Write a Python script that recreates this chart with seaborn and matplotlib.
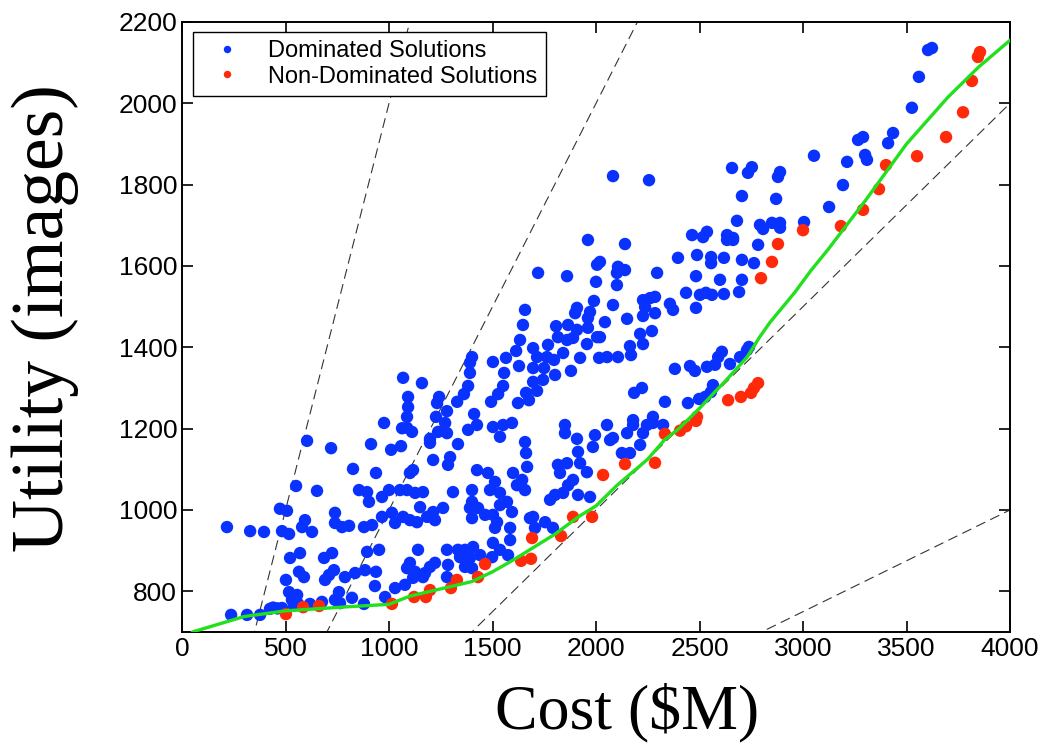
import matplotlib
matplotlib.use("Agg")
import matplotlib.pyplot as plt
import seaborn as sns
import numpy as np
import pandas as pd

# ---------------- data ----------------
dom_cost = [
    217, 329, 396, 473, 507, 483, 517, 604, 720, 551, 652, 826, 913, 976, 1010, 937, 739, 594, 580, 628,
    739, 773, 807, 855, 894, 903, 966, 1000, 879, 918, 966, 1014, 1029, 522, 570, 565, 589, 502, 517, 556,
    531, 686, 725, 710, 734, 691, 787, 836, 884, 894, 952, 937, 932, 758, 739, 821, 879, 981, 1029, 237,
    314, 377, 425, 483, 618, 676, 763, 1063, 1058, 440, 460, 540, 560,
    1720, 1860, 1961, 2005, 2000, 1990, 1908, 1899, 1971, 1961, 1961, 2005, 1865, 1807, 1908, 1816, 1860, 1889, 1956, 1923,
    2015, 1841, 1879, 1657, 1647, 1633, 1696, 1768, 1715, 1763, 1797, 1696, 1749, 1802, 1744, 1696, 1715, 1662, 1676, 1614,
    1628, 1565, 1556, 1502, 1401, 1391, 1391, 1382, 1551, 1527, 1623, 1493, 1362, 1329, 1280, 1411, 1425, 1382, 1502, 1551,
    1594, 1536, 1242, 1232, 1227, 1271, 1237, 1280, 1092, 1092, 1087, 1087, 1111, 1068, 1159, 1850, 1850, 1908, 1995, 1198,
    1198, 1213, 1116, 1101, 1295, 1285, 1333, 1425, 1478, 1512, 1488, 1536, 1401, 1309, 1401, 1391, 1430, 1401, 1536, 1570,
    1594, 1464, 1502, 1522, 1512, 1585, 1585, 1502, 1498, 1536, 1575, 1599, 1643, 1667, 1662, 1657, 1618, 1657, 1816, 1826,
    1860, 1913, 1923, 1956, 1985, 1889, 1865, 1841, 1913, 1971, 1778, 1802, 1696, 1681, 1754, 1705, 1792, 1053, 1087, 1126,
    1164, 1150, 1068, 1101, 1135, 1184, 1213, 1222, 1261, 1140, 1280, 1333, 1367, 1406, 1343, 1391, 1367, 1285, 1101, 1087,
    1126, 1174, 1198, 1222, 1116, 1164, 1077, 1280, 1401, 1440,
    2082, 2256, 2657, 2734, 2753, 2889, 2879, 2705, 2870, 2681, 2792, 2807, 2850, 2889, 2889, 2464, 2536, 2517, 2633, 2662,
    2140, 2019, 2106, 2101, 2140, 2101, 2295, 2396, 2488, 2556, 2556, 2618, 2705, 2763, 2633, 2662, 2783, 2483, 2599, 2705,
    2435, 2502, 2531, 2560, 2618, 2691, 2483, 2357, 2372, 2227, 2261, 2285, 2237, 2285, 2227, 2082, 2043, 2150, 2270, 2213,
    2227, 2164, 2169, 2106, 2053, 2019, 2381, 2454, 2478, 2536, 2575, 2590, 2608, 2647, 2696, 2729, 2739, 2565, 2555, 2527,
    2498, 2444, 2333, 2222, 2184, 2275, 2275, 2246, 2179, 2179, 2227, 2324, 2053, 2150, 2082, 2068, 2164, 2213, 2125,
    3604, 3623, 3560, 3526, 3435, 3411, 3290, 3266, 3300, 3309, 3213, 3053, 3193, 3126, 3005,
]
dom_util = [
    958, 948, 946, 1003, 998, 948, 941, 1170, 1152, 1059, 1047, 1101, 1162, 1214, 1148, 1091, 993, 975, 958, 946,
    968, 958, 961, 1049, 1044, 1020, 1032, 1049, 958, 963, 983, 993, 968, 882, 894, 848, 835, 828, 798, 791,
    779, 882, 894, 840, 852, 828, 835, 845, 852, 897, 902, 848, 813, 798, 779, 784, 769, 786, 808, 742,
    742, 742, 757, 759, 769, 774, 771, 1201, 1157, 760, 758, 765, 770,
    1583, 1575, 1664, 1603, 1561, 1514, 1497, 1484, 1487, 1472, 1448, 1425, 1455, 1452, 1443, 1425, 1418, 1423, 1408, 1374,
    1374, 1386, 1342, 1492, 1455, 1418, 1398, 1406, 1376, 1376, 1369, 1349, 1349, 1332, 1320, 1315, 1293, 1288, 1270, 1391,
    1354, 1374, 1337, 1364, 1376, 1362, 1337, 1305, 1305, 1285, 1263, 1266, 1285, 1266, 1243, 1236, 1209, 1197, 1204, 1209,
    1214, 1180, 1278, 1263, 1229, 1214, 1192, 1189, 1278, 1253, 1229, 1202, 1192, 1325, 1312, 1209, 1189, 1175, 1184, 1175,
    1165, 1123, 1098, 1091, 1130, 1111, 1162, 1098, 1091, 1069, 1049, 1042, 1049, 1044, 1020, 1005, 1005, 980, 1012, 1020,
    995, 988, 988, 970, 956, 956, 926, 919, 884, 902, 889, 1091, 1074, 1106, 1140, 1167, 1061, 1049, 1111, 1091,
    1115, 1143, 1115, 1093, 1155, 1074, 1061, 1042, 1037, 1032, 1025, 1037, 983, 980, 970, 956, 956, 1049, 1049, 1042,
    1044, 1007, 983, 975, 970, 983, 995, 975, 1005, 902, 902, 902, 902, 909, 884, 882, 860, 865, 870, 857,
    848, 845, 860, 870, 833, 835, 816, 835, 857, 889,
    1821, 1811, 1841, 1829, 1843, 1831, 1819, 1772, 1765, 1711, 1701, 1691, 1706, 1706, 1694, 1676, 1684, 1671, 1676, 1669,
    1654, 1610, 1598, 1583, 1590, 1553, 1583, 1620, 1627, 1622, 1607, 1620, 1615, 1607, 1664, 1664, 1652, 1575, 1566, 1566,
    1534, 1529, 1534, 1529, 1531, 1536, 1497, 1507, 1492, 1516, 1521, 1524, 1499, 1484, 1477, 1504, 1462, 1470, 1440, 1433,
    1408, 1403, 1381, 1376, 1376, 1425, 1347, 1354, 1342, 1352, 1357, 1376, 1389, 1359, 1376, 1393, 1401, 1307, 1290, 1278,
    1273, 1263, 1266, 1300, 1288, 1229, 1214, 1209, 1221, 1209, 1189, 1209, 1209, 1189, 1177, 1172, 1140, 1160, 1140,
    2131, 2136, 2065, 1989, 1927, 1902, 1917, 1910, 1873, 1861, 1856, 1871, 1799, 1745, 1708,
]
nd_cost = [
    502, 585, 662, 1014, 1121, 1178, 1198, 1299, 1328, 1430, 1464, 1638, 1686, 1691, 1831, 1889, 1981, 2034, 2140, 2285,
    2333, 2406, 2435, 2483, 2488, 2638, 2700, 2749, 2763, 2783, 2797, 2850, 2879, 3000, 3183, 3290, 3367, 3401, 3551, 3691,
    3773, 3816, 3845, 3855,
]
nd_util = [
    744, 761, 764, 769, 786, 786, 803, 808, 828, 835, 867, 875, 880, 931, 936, 983, 983, 1086, 1113, 1116,
    1187, 1195, 1206, 1219, 1229, 1270, 1278, 1288, 1300, 1312, 1570, 1610, 1654, 1688, 1698, 1738, 1789, 1848, 1870, 1917,
    1978, 2055, 2114, 2126,
]
front_cost = [50, 300, 500, 800, 1000, 1100, 1200, 1400, 1500, 1600, 1800, 1920, 2000, 2100, 2250, 2330,
              2400, 2500, 2570, 2630, 2730, 2790, 2840, 2960, 3040, 3120, 3300, 3500, 3700, 3850, 4000]
front_util = [700, 738, 752, 762, 768, 788, 800, 824, 848, 877, 940, 985, 1010, 1060, 1125, 1172,
              1200, 1250, 1288, 1320, 1376, 1425, 1461, 1535, 1590, 1640, 1760, 1900, 2015, 2090, 2155]
ratio_slopes = [2, 1, 0.5, 0.25]   # images per $M reference lines

x_ticks = [0, 500, 1000, 1500, 2000, 2500, 3000, 3500, 4000]
y_ticks = [800, 1000, 1200, 1400, 1600, 1800, 2000, 2200]

# ---------------- style ----------------
sns.set_style("ticks")
plt.rcParams.update({
    "font.family": ["Liberation Sans", "DejaVu Sans"],
    "text.color": "black",
    "axes.labelcolor": "black",
    "xtick.color": "black",
    "ytick.color": "black",
    "xtick.direction": "in",
    "ytick.direction": "in",
    "xtick.top": True,
    "ytick.right": True,
    "xtick.major.size": 8,
    "ytick.major.size": 8,
    "xtick.major.width": 1.2,
    "ytick.major.width": 1.2,
    "axes.linewidth": 1.4,
    "axes.edgecolor": "black",
})

fig = plt.figure(figsize=(10.42, 7.45), dpi=100)
ax = fig.add_axes([0.1747, 0.1517, 0.7946, 0.8188])

# reference ratio lines
xr = np.array([0.0, 4000.0])
for k in ratio_slopes:
    ax.plot(xr, k * xr, color="#333333", lw=0.8, ls=(0, (9, 5)), zorder=1)

dom = pd.DataFrame({"Cost": dom_cost, "Utility": dom_util, "kind": "Dominated Solutions"})
nd = pd.DataFrame({"Cost": nd_cost, "Utility": nd_util, "kind": "Non-Dominated Solutions"})
pts = pd.concat([dom, nd], ignore_index=True)

sns.scatterplot(data=pts, x="Cost", y="Utility", hue="kind",
                palette={"Dominated Solutions": "#0a32ff", "Non-Dominated Solutions": "#ff2a0a"},
                s=80, linewidth=0, ax=ax, zorder=3)

front = pd.DataFrame({"Cost": front_cost, "Utility": front_util})
sns.lineplot(data=front, x="Cost", y="Utility", color="#22e01e", lw=2.4, ax=ax, zorder=4,
             legend=False)

ax.set_xlim(0, 4000)
ax.set_ylim(700, 2200)
ax.set_xticks(x_ticks)
ax.set_yticks(y_ticks)
ax.tick_params(labelsize=19, colors="black")
for lab in ax.get_xticklabels() + ax.get_yticklabels():
    lab.set_fontfamily(["Liberation Sans", "DejaVu Sans"])

ax.set_xlabel("Cost ($M)", fontsize=46, family=["Liberation Serif", "DejaVu Serif"], color="black")
ax.set_ylabel("Utility (images)", fontsize=53, family=["Liberation Serif", "DejaVu Serif"], color="black")
ax.xaxis.set_label_coords(0.537, -0.083)
ax.yaxis.set_label_coords(-0.125, 0.515)

leg = ax.legend(loc="upper left", bbox_to_anchor=(0.013, 0.984), fontsize=17, frameon=True,
                fancybox=False, edgecolor="black", framealpha=1, markerscale=0.6,
                handletextpad=0.65, labelspacing=0.15, borderpad=0.35, borderaxespad=0,
                handlelength=2.2)
leg.get_frame().set_linewidth(1.0)
for t in leg.get_texts():
    t.set_color("black")

fig.savefig("out.png", dpi=100)
